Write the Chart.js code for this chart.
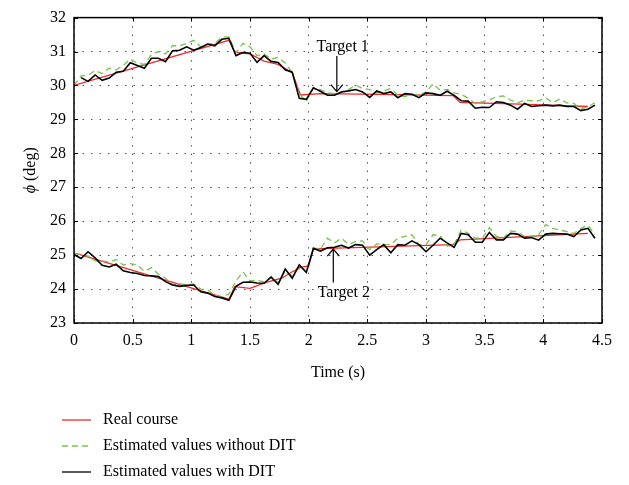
<!DOCTYPE html>
<html>
<head>
<meta charset="utf-8">
<script src="https://cdn.jsdelivr.net/npm/chart.js@4/dist/chart.umd.min.js"></script>
<style>
  html, body { margin: 0; padding: 0; background: #fff; }
  canvas { display: block; }
</style>
</head>
<body>
<canvas id="phiChart" width="629" height="485"></canvas>
<script>
// sample times (s) of the estimated values
const times = [0, 0.06, 0.12, 0.18, 0.24, 0.30, 0.36, 0.42, 0.48, 0.54, 0.60, 0.66, 0.72, 0.78, 0.84,
  0.90, 0.96, 1.02, 1.08, 1.14, 1.20, 1.26, 1.32, 1.38, 1.44, 1.50, 1.56, 1.62, 1.68, 1.74,
  1.80, 1.86, 1.92, 1.98, 2.04, 2.10, 2.16, 2.22, 2.28, 2.34, 2.40, 2.46, 2.52, 2.58, 2.64,
  2.70, 2.76, 2.82, 2.88, 2.94, 3.00, 3.06, 3.12, 3.18, 3.24, 3.30, 3.36, 3.42, 3.48, 3.54,
  3.60, 3.66, 3.72, 3.78, 3.84, 3.90, 3.96, 4.02, 4.08, 4.14, 4.20, 4.26, 4.32, 4.38, 4.44];

// target 1 (upper)
const t1RealTimes = [0, 1.32, 1.37, 1.5, 1.62, 1.74, 1.86, 1.93, 2.1, 2.6, 3.23, 3.29, 3.8, 4.38];
const t1Real = [30.0, 31.33, 30.98, 30.93, 30.72, 30.62, 30.38, 29.72, 29.76, 29.74, 29.70, 29.50, 29.45, 29.38];
const t1NoDit = [30.0, 30.28, 30.30, 30.44, 30.35, 30.51, 30.46, 30.59, 30.78, 30.66, 30.62,
  30.91, 31.00, 30.93, 31.17, 31.17, 31.24, 31.33, 31.14, 31.22, 31.24,
  31.43, 31.43, 30.97, 31.24, 31.14, 30.88, 30.93, 30.78, 30.83, 30.66,
  30.39, 29.74, 29.54, 29.91, 29.88, 29.78, 29.76, 29.81, 29.88, 30.01,
  29.91, 29.88, 29.78, 29.84, 29.91, 29.71, 29.67, 29.74, 29.71, 29.81,
  30.05, 29.86, 29.88, 29.78, 29.74, 29.62, 29.47, 29.52, 29.57, 29.67,
  29.69, 29.57, 29.49, 29.57, 29.55, 29.55, 29.64, 29.49, 29.60, 29.49,
  29.47, 29.30, 29.38, 29.49];
const t1Dit = [null, 30.23, 30.12, 30.31, 30.15, 30.22, 30.39, 30.42, 30.67, 30.59, 30.51,
  30.80, 30.80, 30.70, 31.02, 31.04, 31.14, 31.04, 31.12, 31.22, 31.17,
  31.36, 31.39, 30.88, 30.97, 30.95, 30.68, 30.88, 30.71, 30.68, 30.46,
  30.39, 29.62, 29.59, 29.93, 29.83, 29.71, 29.71, 29.81, 29.84, 29.88,
  29.81, 29.65, 29.84, 29.76, 29.81, 29.64, 29.76, 29.74, 29.64, 29.78,
  29.76, 29.71, 29.83, 29.71, 29.55, 29.54, 29.33, 29.36, 29.35, 29.52,
  29.50, 29.42, 29.30, 29.47, 29.38, 29.40, 29.42, 29.40, 29.42, 29.38,
  29.38, 29.26, 29.30, 29.42];

// target 2 (lower)
const t2RealTimes = [0, 1.32, 1.37, 1.5, 1.63, 1.77, 1.85, 1.93, 2.0, 2.04, 2.1, 3.23, 3.29, 4.38];
const t2Real = [25.07, 23.70, 24.07, 24.02, 24.19, 24.32, 24.49, 24.64, 24.68, 25.17, 25.19, 25.31, 25.45, 25.64];
const t2NoDit = [25.05, 25.02, 24.97, 24.83, 24.83, 24.80, 24.87, 24.71, 24.75, 24.71, 24.52,
  24.63, 24.44, 24.32, 24.12, 24.15, 24.13, 24.15, 24.00, 23.98, 23.81,
  23.78, 23.85, 24.24, 24.51, 24.24, 24.26, 24.21, 24.36, 24.19, 24.53,
  24.39, 24.70, 24.53, 25.21, 25.18, 25.50, 25.36, 25.50, 25.31, 25.40,
  25.42, 25.16, 25.33, 25.31, 25.31, 25.50, 25.55, 25.60, 25.31, 25.31,
  25.60, 25.58, 25.26, 25.31, 25.74, 25.64, 25.50, 25.50, 25.81, 25.55,
  25.50, 25.71, 25.69, 25.55, 25.55, 25.60, 25.90, 25.79, 25.74, 25.69,
  25.64, 25.79, 25.88, 25.60];
const t2Dit = [25.02, 24.90, 25.10, 24.92, 24.70, 24.65, 24.73, 24.54, 24.49, 24.46, 24.40,
  24.39, 24.37, 24.22, 24.12, 24.08, 24.11, 24.12, 23.92, 23.88, 23.78,
  23.74, 23.67, 24.08, 24.20, 24.21, 24.18, 24.17, 24.35, 24.14, 24.59,
  24.32, 24.71, 24.49, 25.20, 25.12, 25.22, 25.23, 25.29, 25.21, 25.31,
  25.29, 25.00, 25.16, 25.31, 25.07, 25.31, 25.29, 25.42, 25.31, 25.10,
  25.29, 25.50, 25.36, 25.23, 25.64, 25.60, 25.38, 25.38, 25.67, 25.45,
  25.45, 25.64, 25.62, 25.50, 25.52, 25.44, 25.62, 25.64, 25.63, 25.62,
  25.55, 25.74, 25.79, 25.50];

const legendLabels = ['Real course', 'Estimated values without DIT', 'Estimated values with DIT'];

const RED = '#ee2b2b', GREEN = '#77c34e', BLACK = '#000';
const SERIF = '"Liberation Serif", "DejaVu Serif", serif';

function pts(xs, ys) {
  return xs.map((t, i) => ({ x: t, y: ys[i] }));
}

function line(data, color, width, dash, order) {
  return {
    data: data, borderColor: color, borderWidth: width, borderDash: dash || [],
    pointRadius: 0, tension: 0, fill: false, order: order, spanGaps: false
  };
}

function arrow(ctx, x, y0, y1) {
  // shaft from y0 to y1, open head at y1
  const dir = y1 > y0 ? 1 : -1;
  ctx.beginPath();
  ctx.moveTo(x, y0); ctx.lineTo(x, y1);
  ctx.moveTo(x - 6, y1 - dir * 7); ctx.lineTo(x, y1); ctx.lineTo(x + 6, y1 - dir * 7);
  ctx.stroke();
}

const decor = {
  id: 'decor',
  afterDraw(chart) {
    const { ctx, chartArea: a, scales: { x, y } } = chart;
    ctx.save();
    ctx.strokeStyle = '#000';
    ctx.fillStyle = '#000';
    ctx.lineWidth = 1.5;
    ctx.strokeRect(a.left, a.top, a.right - a.left, a.bottom - a.top);

    // inward tick marks on all four sides
    ctx.lineWidth = 1;
    ctx.beginPath();
    x.ticks.forEach(t => {
      const px = Math.round(x.getPixelForValue(t.value)) + 0.5;
      ctx.moveTo(px, a.bottom); ctx.lineTo(px, a.bottom - 4);
      ctx.moveTo(px, a.top); ctx.lineTo(px, a.top + 4);
    });
    y.ticks.forEach(t => {
      const py = Math.round(y.getPixelForValue(t.value)) + 0.5;
      ctx.moveTo(a.left, py); ctx.lineTo(a.left + 4, py);
      ctx.moveTo(a.right, py); ctx.lineTo(a.right - 4, py);
    });
    ctx.stroke();

    // axis titles
    ctx.font = '16px ' + SERIF;
    ctx.textAlign = 'center';
    ctx.textBaseline = 'middle';
    ctx.fillText('Time (s)', (a.left + a.right) / 2, 373);

    ctx.save();
    ctx.translate(31, (a.top + a.bottom) / 2);
    ctx.rotate(-Math.PI / 2);
    const phiFont = 'italic 16px ' + SERIF, restFont = '16px ' + SERIF;
    ctx.font = phiFont; const w1 = ctx.measureText('ϕ').width;
    ctx.font = restFont; const w2 = ctx.measureText(' (deg)').width;
    ctx.textAlign = 'left';
    ctx.font = phiFont; ctx.fillText('ϕ', -(w1 + w2) / 2, 0);
    ctx.font = restFont; ctx.fillText(' (deg)', -(w1 + w2) / 2 + w1, 0);
    ctx.restore();

    // target annotations
    ctx.font = '16px ' + SERIF;
    ctx.textAlign = 'center';
    ctx.lineWidth = 1.2;
    ctx.fillText('Target 1', x.getPixelForValue(2.29), y.getPixelForValue(31.13));
    arrow(ctx, x.getPixelForValue(2.24), y.getPixelForValue(30.87), y.getPixelForValue(29.82));
    ctx.fillText('Target 2', x.getPixelForValue(2.30), y.getPixelForValue(23.9));
    arrow(ctx, x.getPixelForValue(2.21), y.getPixelForValue(24.19), y.getPixelForValue(25.18));

    // legend
    const styles = [[RED, []], [GREEN, [6, 4]], [BLACK, []]];
    ctx.textAlign = 'left';
    legendLabels.forEach((lab, i) => {
      const ly = 420 + i * 26;
      ctx.strokeStyle = styles[i][0];
      ctx.setLineDash(styles[i][1]);
      ctx.lineWidth = 1.3;
      ctx.beginPath(); ctx.moveTo(62, ly); ctx.lineTo(91, ly); ctx.stroke();
      ctx.setLineDash([]);
      ctx.fillText(lab, 103, ly);
    });
    ctx.restore();
  }
};

new Chart(document.getElementById('phiChart').getContext('2d'), {
  type: 'line',
  data: {
    datasets: [
      line(pts(times, t1Dit), BLACK, 1.6, null, 1),
      line(pts(times, t2Dit), BLACK, 1.6, null, 1),
      line(pts(times, t1NoDit), GREEN, 1.3, [6, 4], 2),
      line(pts(times, t2NoDit), GREEN, 1.3, [6, 4], 2),
      line(pts(t1RealTimes, t1Real), RED, 1.3, null, 3),
      line(pts(t2RealTimes, t2Real), RED, 1.3, null, 3)
    ]
  },
  options: {
    responsive: false,
    animation: false,
    devicePixelRatio: 1,
    layout: { padding: { left: 0, right: 27, top: 13, bottom: 0 } },
    plugins: { legend: { display: false }, tooltip: { enabled: false } },
    scales: {
      x: {
        type: 'linear', min: 0, max: 4.5,
        ticks: {
          stepSize: 0.5, color: '#000', font: { family: SERIF, size: 16 }, padding: 8, maxRotation: 0,
          callback: v => String(Math.round(v * 10) / 10)
        },
        grid: { color: '#555', lineWidth: 1, drawTicks: false },
        border: { display: false, dash: [1.5, 7] },
        afterFit(s) { s.height = 162; }
      },
      y: {
        min: 23, max: 32,
        ticks: { stepSize: 1, color: '#000', font: { family: SERIF, size: 16 }, padding: 8 },
        grid: { color: '#555', lineWidth: 1, drawTicks: false },
        border: { display: false, dash: [1.5, 7] },
        afterFit(s) { s.width = 74; }
      }
    }
  },
  plugins: [decor]
});
</script>
</body>
</html>
